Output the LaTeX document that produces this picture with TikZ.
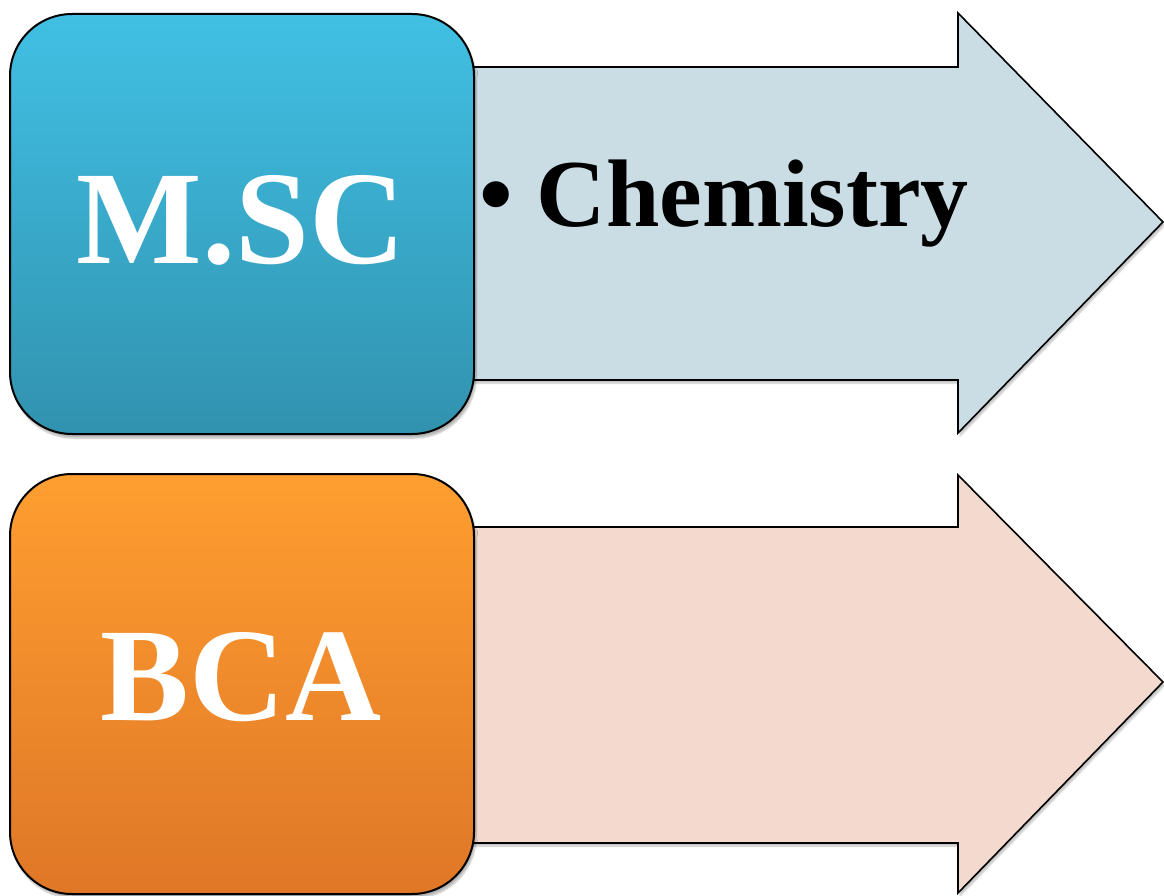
\documentclass[tikz,border=0pt]{standalone}
\usepackage{fontspec}
\setmainfont{Liberation Serif}
\usetikzlibrary{shadows.blur}
\definecolor{bluetop}{HTML}{41C0E4}
\definecolor{bluebot}{HTML}{3192AF}
\definecolor{orangetop}{HTML}{FF9E30}
\definecolor{orangebot}{HTML}{DF7727}
\definecolor{bluearrow}{HTML}{CBDDE4}
\definecolor{orangearrow}{HTML}{F4D9CE}
\tikzset{
  arrowshape/.style={draw=black, line width=1.6pt, line join=miter, blur shadow={shadow xshift=2pt, shadow yshift=-3pt, shadow blur steps=6, shadow opacity=25}},
  boxshape/.style={draw=black, line width=2pt, rounded corners=62pt, blur shadow={shadow xshift=2pt, shadow yshift=-4pt, shadow blur steps=8, shadow opacity=30}},
  boxtext/.style={text=white, font=\bfseries\fontsize{133}{140}\selectfont, inner sep=0pt, anchor=base},
  itemtext/.style={text=black, font=\bfseries\fontsize{96}{100}\selectfont, inner sep=0pt, anchor=base west}
}
\begin{document}
\begin{tikzpicture}[x=1pt,y=-1pt]
\useasboundingbox (0,0) rectangle (1164,896);
% top arrow
\path[arrowshape, fill=bluearrow] (440,67) -- (958,67) -- (958,13) -- (1163,222) -- (958,433) -- (958,380) -- (440,380) -- cycle;
% top box
\path[boxshape, top color=bluetop, bottom color=bluebot] (10,14) rectangle (474,434);
\node[boxtext] (msc) at (241,263) {M.SC};
\node[itemtext] (chem) at (479,226) {• Chemistry};
% bottom arrow
\path[arrowshape, fill=orangearrow] (440,527) -- (958,527) -- (958,475) -- (1163,682) -- (958,893) -- (958,843) -- (440,843) -- cycle;
% bottom box
\path[boxshape, top color=orangetop, bottom color=orangebot] (10,474) rectangle (474,894);
\node[boxtext] (bca) at (241,720) {BCA};
\end{tikzpicture}
\end{document}
